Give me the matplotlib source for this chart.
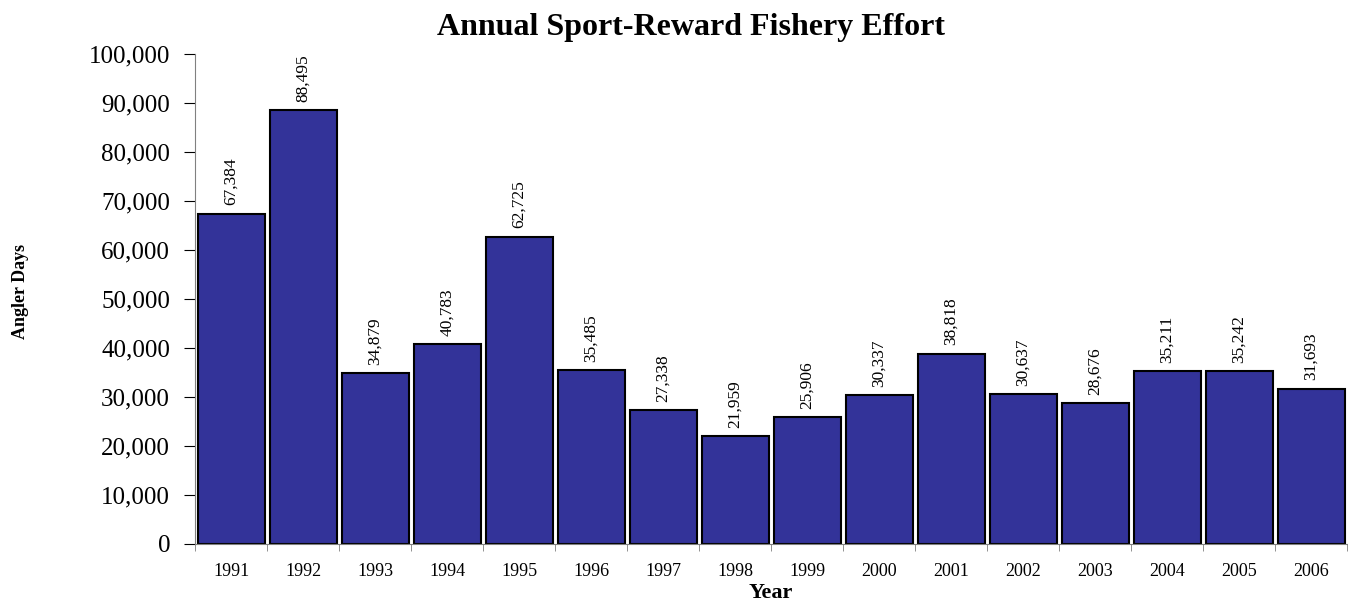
import matplotlib.pyplot as plt
import numpy as np

years = ['1991', '1992', '1993', '1994', '1995', '1996', '1997', '1998',
         '1999', '2000', '2001', '2002', '2003', '2004', '2005', '2006']
angler_days = [67384, 88495, 34879, 40783, 62725, 35485, 27338, 21959,
               25906, 30337, 38818, 30637, 28676, 35211, 35242, 31693]

plt.rcParams['font.family'] = 'Liberation Serif'

fig = plt.figure(figsize=(13.48, 6.07), dpi=100)
ax = fig.add_axes([0.1447, 0.1038, 0.8546, 0.8072])

x = np.arange(len(years))
ax.bar(x, angler_days, width=0.93, color='#333399', edgecolor='black', linewidth=1.5)

# Value labels above each bar
for xi, v in zip(x, angler_days):
    ax.annotate(f'{v:,}', (xi, v), xytext=(0, 6), textcoords='offset points',
                rotation=90, ha='center', va='bottom', fontsize=12.5)

ax.set_xlim(-0.5, len(years) - 0.5)
ax.set_ylim(0, 100000)
ax.set_yticks(range(0, 100001, 10000))
ax.set_yticklabels([f'{t:,}' for t in range(0, 100001, 10000)], fontsize=18)

# Category labels centred, tick marks on category boundaries
ax.set_xticks(x)
ax.set_xticklabels(years, fontsize=13)
ax.tick_params(axis='x', length=0, pad=14)
ax.set_xticks(np.arange(-0.5, len(years)), minor=True)
ax.tick_params(axis='x', which='minor', length=5, color='gray')
ax.tick_params(axis='y', length=8, color='black', pad=10)

ax.spines['top'].set_visible(False)
ax.spines['right'].set_visible(False)
ax.spines['bottom'].set_color('gray')
ax.spines['left'].set_color('gray')

ax.set_xlabel('Year', fontsize=16, fontweight='bold', labelpad=2)
fig.text(0.015, 0.52, 'Angler Days', rotation=90, ha='center', va='center',
         fontsize=13, fontweight='bold')
fig.suptitle('Annual Sport-Reward Fishery Effort', fontsize=23,
             fontweight='bold', x=0.5126, y=0.978)

fig.savefig('out.png', dpi=100)
